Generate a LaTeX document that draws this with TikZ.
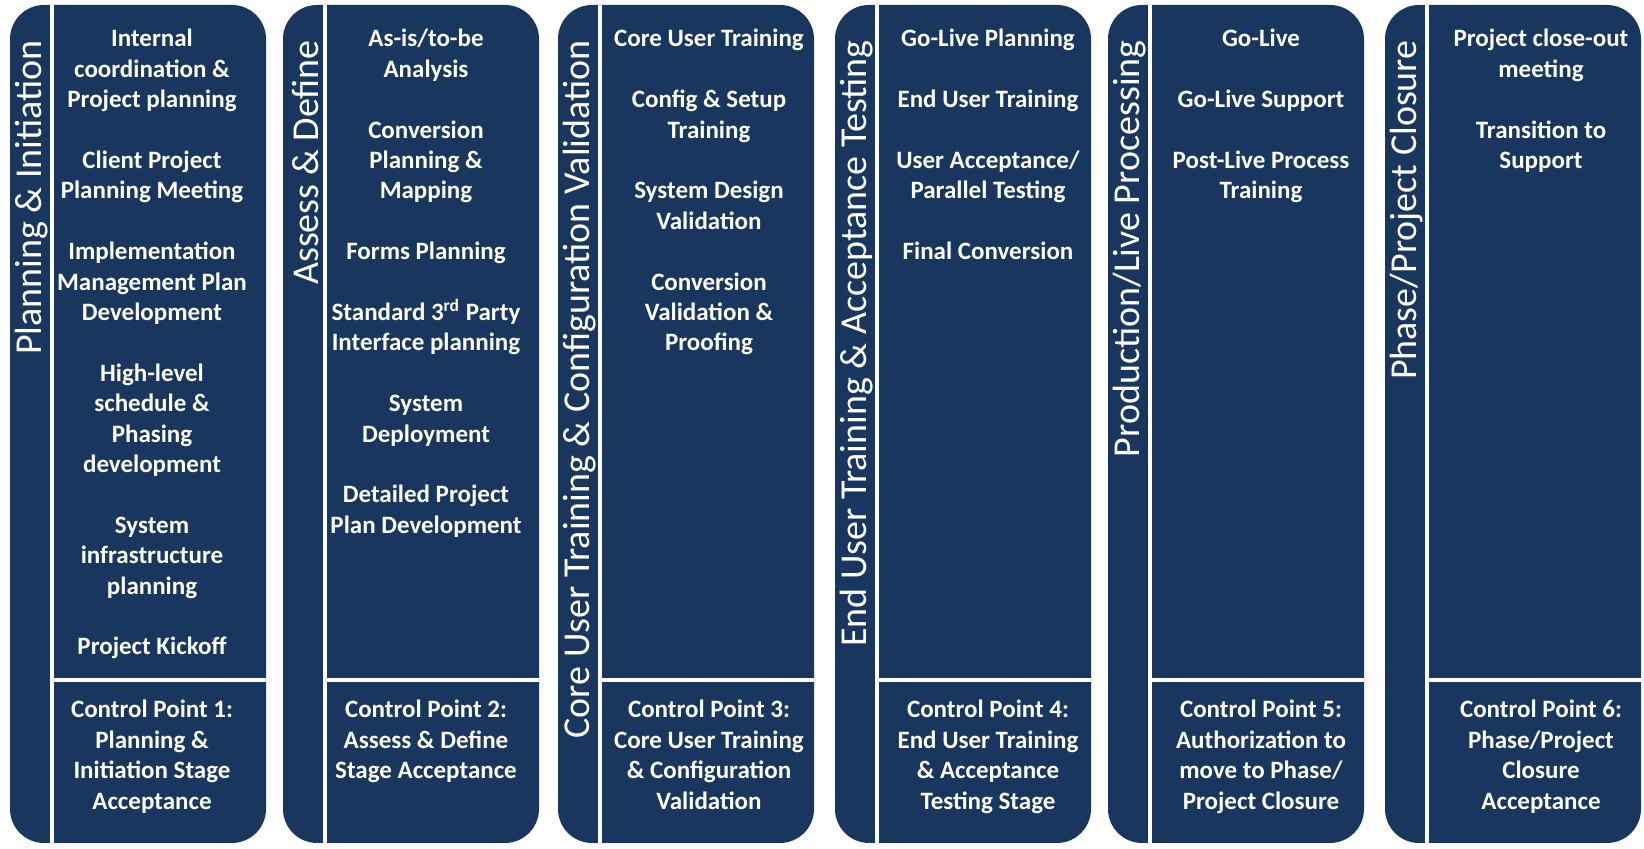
\documentclass[tikz,border=0pt]{standalone}
\usepackage{fontspec}
\setmainfont{Carlito}
\definecolor{phaseblue}{RGB}{24,54,94}

\begin{document}
\begin{tikzpicture}[x=0.5pt, y=0.5pt,
  phase/.style={fill=phaseblue, rounded corners=17pt},
  rule/.style={white, line width=2pt},
  title/.style={white, rotate=90, anchor=east, inner sep=0pt,
    font=\fontsize{19}{23}\selectfont},
  task/.style={white, anchor=north, align=center, inner sep=0pt,
    font=\fontsize{12.5}{15.2}\selectfont\bfseries}]

\useasboundingbox (0,0) rectangle (1644,849);

% the six phase columns
\foreach \x in {10, 283, 558, 835, 1108, 1385} {
  \fill[phase] (\x, 6) rectangle +(256, 838);
  \draw[rule] (\x+42, 6) -- (\x+42, 844);
  \draw[rule] (\x+42, 169) -- (\x+256, 169);
}

% phase names
\node[title] (t1) at (32, 809) {Planning \& Initiation};
\node[title] (t2) at (305, 809) {Assess \& Define};
\node[title] (t3) at (580, 809) {Core User Training \& Configuration Validation};
\node[title] (t4) at (857, 809) {End User Training \& Acceptance Testing};
\node[title] (t5) at (1130, 809) {Production/Live Processing};
\node[title] (t6) at (1407, 809) {Phase/Project Closure};

% tasks of each phase
\node[task] (a1) at (152, 820) {Internal\\ coordination \&\\ Project planning\\[15.2pt]
  Client Project\\ Planning Meeting\\[15.2pt]
  Implementation\\ Management Plan\\ Development\\[15.2pt]
  High-level\\ schedule \&\\ Phasing\\ development\\[15.2pt]
  System\\ infrastructure\\ planning\\[15.2pt]
  Project Kickoff};
\node[task] (a2) at (426, 820) {As-is/to-be\\ Analysis\\[15.2pt]
  Conversion\\ Planning \&\\ Mapping\\[15.2pt]
  Forms Planning\\[15.2pt]
  Standard 3\textsuperscript{rd} Party\\ Interface planning\\[15.2pt]
  System\\ Deployment\\[15.2pt]
  Detailed Project\\ Plan Development};
\node[task] (a3) at (709, 820) {Core User Training\\[15.2pt]
  Config \& Setup\\ Training\\[15.2pt]
  System Design\\ Validation\\[15.2pt]
  Conversion\\ Validation \&\\ Proofing};
\node[task] (a4) at (988, 820) {Go-Live Planning\\[15.2pt]
  End User Training\\[15.2pt]
  User Acceptance/\\ Parallel Testing\\[15.2pt]
  Final Conversion};
\node[task] (a5) at (1261, 820) {Go-Live\\[15.2pt]
  Go-Live Support\\[15.2pt]
  Post-Live Process\\ Training};
\node[task] (a6) at (1541, 820) {Project close-out\\ meeting\\[15.2pt]
  Transition to\\ Support};

% control points
\node[task] (c1) at (152, 149) {Control Point 1:\\ Planning \&\\ Initiation Stage\\ Acceptance};
\node[task] (c2) at (426, 149) {Control Point 2:\\ Assess \& Define\\ Stage Acceptance};
\node[task] (c3) at (709, 149) {Control Point 3:\\ Core User Training\\ \& Configuration\\ Validation};
\node[task] (c4) at (988, 149) {Control Point 4:\\ End User Training\\ \& Acceptance\\ Testing Stage};
\node[task] (c5) at (1261, 149) {Control Point 5:\\ Authorization to\\ move to Phase/\\ Project Closure};
\node[task] (c6) at (1541, 149) {Control Point 6:\\ Phase/Project\\ Closure\\ Acceptance};

\end{tikzpicture}
\end{document}
